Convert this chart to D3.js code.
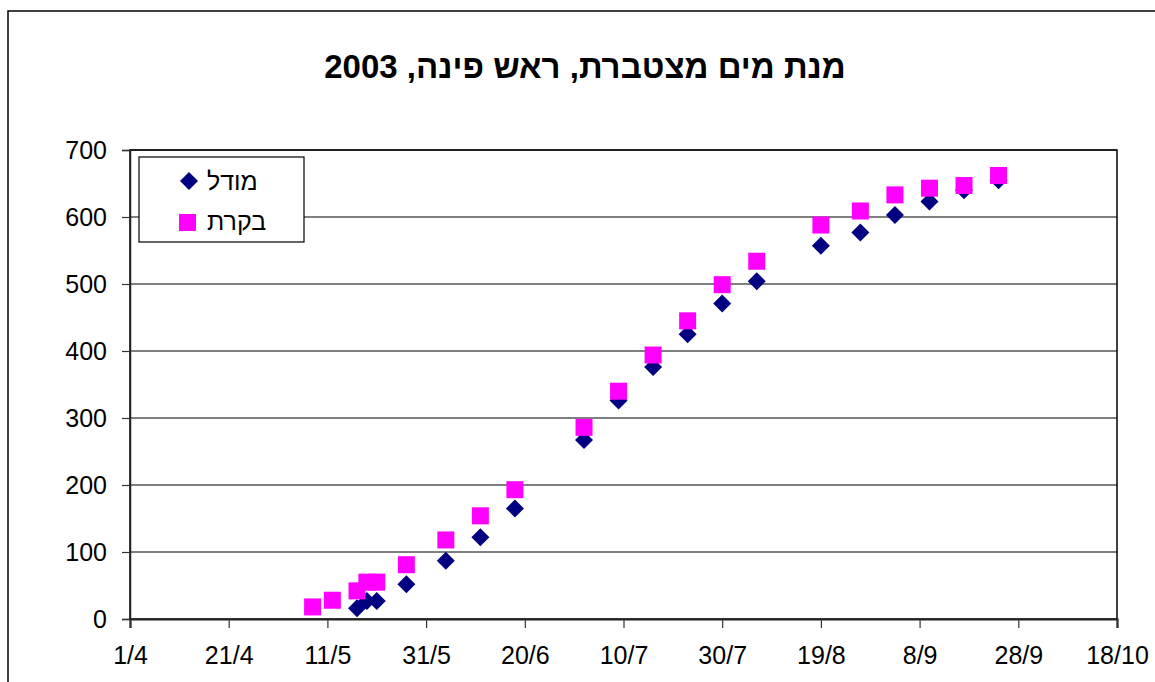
<!DOCTYPE html>
<html>
<head>
<meta charset="utf-8">
<title>מנת מים מצטברת, ראש פינה, 2003</title>
<script src="https://cdn.jsdelivr.net/npm/d3@7/dist/d3.min.js"></script>
<style>
  body { margin: 0; background: #fff; }
  svg { display: block; font-family: "Liberation Sans", Arial, sans-serif; }
</style>
</head>
<body>
<div id="chart"></div>
<script>
// data (dates are d/m of 2003)
const modelDates = ["17/5", "19/5", "21/5", "27/5", "4/6", "11/6", "18/6", "2/7", "9/7", "16/7",
                    "23/7", "30/7", "6/8", "19/8", "27/8", "3/9", "10/9", "17/9", "24/9"];
const modelValues = [16, 27, 27, 52, 87, 122, 165, 267, 326, 376,
                     425, 471, 504, 557, 577, 603, 623, 640, 655];

const obsDates = ["8/5", "12/5", "17/5", "19/5", "21/5", "27/5", "4/6", "11/6", "18/6", "2/7", "9/7",
                  "16/7", "23/7", "30/7", "6/8", "19/8", "27/8", "3/9", "10/9", "17/9", "24/9"];
const obsValues = [18, 28, 42, 55, 55, 81, 118, 154, 193, 286, 340,
                   394, 445, 499, 534, 588, 609, 633, 643, 647, 662];

const xTickLabels = ["1/4", "21/4", "11/5", "31/5", "20/6", "10/7", "30/7", "19/8", "8/9", "28/9", "18/10"];
const yTicks = [0, 100, 200, 300, 400, 500, 600, 700];

const seriesNames = ["מודל", "בקרת"];
const title = "מנת מים מצטברת, ראש פינה, 2003";

const W = 1155, H = 682;
const plot = {left: 130, right: 1117, top: 150, bottom: 619};
const fontSize = 25;

const parse = s => d3.timeParse("%d/%m/%Y")(s + "/2003");

const x = d3.scaleTime()
  .domain([parse("1/4"), parse("18/10")])
  .range([plot.left, plot.right]);
const y = d3.scaleLinear()
  .domain([0, 700])
  .range([plot.bottom, plot.top]);

const svg = d3.select("#chart").append("svg")
  .attr("width", W).attr("height", H);

// outer chart border
svg.append("rect")
  .attr("x", 8).attr("y", 11).attr("width", W + 20).attr("height", H + 20)
  .attr("fill", "#fff").attr("stroke", "#000").attr("stroke-width", 1.5);

// title
svg.append("text")
  .attr("x", 585).attr("y", 78)
  .attr("direction", "rtl")
  .style("direction", "rtl")
  .attr("text-anchor", "middle")
  .attr("font-size", 33).attr("font-weight", "bold")
  .text(title);

// grid lines
svg.append("g").selectAll("line")
  .data(yTicks.filter(d => d > 0))
  .join("line")
  .attr("x1", plot.left).attr("x2", plot.right)
  .attr("y1", d => y(d)).attr("y2", d => y(d))
  .attr("stroke", "#000").attr("stroke-width", 1.2);

// plot frame
svg.append("rect")
  .attr("x", plot.left).attr("y", plot.top)
  .attr("width", plot.right - plot.left).attr("height", plot.bottom - plot.top)
  .attr("fill", "none").attr("stroke", "#000").attr("stroke-width", 1.5);

// y axis
const yAxis = svg.append("g")
  .attr("transform", `translate(${plot.left},0)`)
  .call(d3.axisLeft(y).tickValues(yTicks).tickSize(8).tickPadding(15).tickFormat(d3.format("d")));
yAxis.select(".domain").attr("stroke", "#222").attr("stroke-width", 1.5);
yAxis.selectAll(".tick line").attr("stroke", "#333").attr("stroke-width", 1.2);
yAxis.selectAll("text").attr("font-size", fontSize).attr("fill", "#000")
  .attr("font-family", "Liberation Sans, Arial, sans-serif");

// x axis
const xAxis = svg.append("g")
  .attr("transform", `translate(0,${plot.bottom})`)
  .call(d3.axisBottom(x).tickValues(xTickLabels.map(parse)).tickSize(9).tickPadding(18)
    .tickFormat(d3.timeFormat("%-d/%-m")));
xAxis.select(".domain").attr("stroke", "#222").attr("stroke-width", 2.2);
xAxis.selectAll(".tick line").attr("stroke", "#333").attr("stroke-width", 1.2);
xAxis.selectAll("text").attr("font-size", fontSize).attr("fill", "#000")
  .attr("font-family", "Liberation Sans, Arial, sans-serif");

// markers
const diamond = (cx, cy, r) => `M${cx},${cy - r}L${cx + r},${cy}L${cx},${cy + r}L${cx - r},${cy}Z`;
const sq = 17;

const model = modelDates.map((d, i) => ({date: parse(d), value: modelValues[i]}));
const obs = obsDates.map((d, i) => ({date: parse(d), value: obsValues[i]}));

svg.append("g").selectAll("path")
  .data(model)
  .join("path")
  .attr("d", d => diamond(x(d.date), y(d.value), 9))
  .attr("fill", "#000080");

svg.append("g").selectAll("rect")
  .data(obs)
  .join("rect")
  .attr("x", d => x(d.date) - sq / 2).attr("y", d => y(d.value) - sq / 2)
  .attr("width", sq).attr("height", sq)
  .attr("fill", "#ff00ff");

// legend
const lg = svg.append("g");
lg.append("rect")
  .attr("x", 139).attr("y", 157).attr("width", 165).attr("height", 85)
  .attr("fill", "#fff").attr("stroke", "#000").attr("stroke-width", 1.2);
lg.append("path").attr("d", diamond(189, 181, 9)).attr("fill", "#000080");
lg.append("rect").attr("x", 179).attr("y", 214).attr("width", sq).attr("height", sq).attr("fill", "#ff00ff");
lg.selectAll("text")
  .data(seriesNames)
  .join("text")
  .attr("x", 207).attr("y", (d, i) => 190 + i * 40)
  .attr("font-size", fontSize)
  .text(d => d);
</script>
</body>
</html>
